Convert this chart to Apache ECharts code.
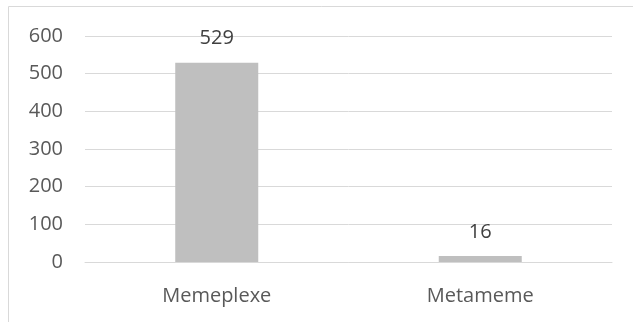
<!DOCTYPE html>
<html>
<head>
<meta charset="utf-8">
<script src="https://cdn.jsdelivr.net/npm/echarts@6/dist/echarts.min.js"></script>
<style>
  html, body { margin: 0; padding: 0; background: #fff; }
  #chart { width: 633px; height: 322px; }
</style>
</head>
<body>
<div id="chart"></div>
<script>
const categories = ['Memeplexe', 'Metameme'];
const counts = [529, 16];
const yTicks = { min: 0, max: 600, interval: 100 };

const labelFont = 'Open Sans, Noto Sans, sans-serif';
const chart = echarts.init(document.getElementById('chart'));
chart.setOption({
  animation: false,
  graphic: [{
    type: 'rect',
    shape: { x: 8.5, y: 6.5, width: 640, height: 330 },
    style: { fill: 'none', stroke: '#d9d9d9', lineWidth: 1 },
    silent: true,
  }],
  grid: { left: 85, right: 21, top: 36, bottom: 60 },
  xAxis: {
    type: 'category',
    data: categories,
    axisLine: { lineStyle: { color: '#d9d9d9', width: 1 } },
    axisTick: { show: false },
    axisLabel: { color: '#595959', fontSize: 20, fontFamily: labelFont, margin: 24 },
  },
  yAxis: {
    type: 'value',
    min: yTicks.min,
    max: yTicks.max,
    interval: yTicks.interval,
    axisLine: { show: false },
    axisTick: { show: false },
    axisLabel: { color: '#595959', fontSize: 20, fontFamily: labelFont, margin: 22 },
    splitLine: { lineStyle: { color: '#d9d9d9', width: 1 } },
  },
  series: [{
    type: 'bar',
    data: counts,
    barWidth: '31.5%',
    itemStyle: { color: '#bfbfbf' },
    label: {
      show: true,
      position: 'top',
      distance: 14,
      color: '#404040',
      fontSize: 20,
      fontFamily: labelFont,
    },
  }],
});
</script>
</body>
</html>
